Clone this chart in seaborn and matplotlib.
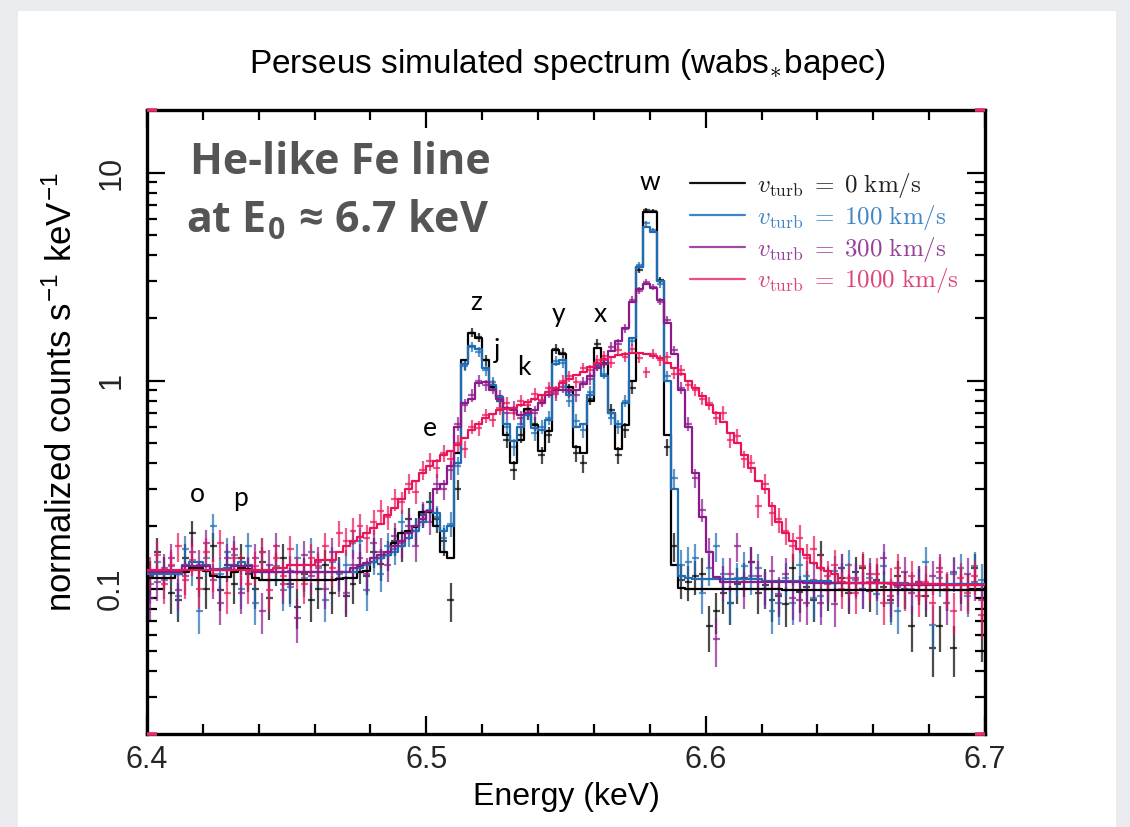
import numpy as np
import matplotlib
matplotlib.use("Agg")
import matplotlib.pyplot as plt
import seaborn as sns
import pandas as pd
from matplotlib.patches import Rectangle
from matplotlib.lines import Line2D
from matplotlib.ticker import FixedLocator, NullFormatter, LogLocator, MultipleLocator

# ---------------- data ----------------
E_LO, E_HI, N_BINS = 6.4, 6.7, 120          # energy grid (keV), 2.5 eV bins
VTURB = ["0", "100", "300", "1000"]          # km/s
COUNT_SCALE = 250.0                          # counts per unit rate in one bin (Poisson errors)

MODEL_V0 = ([0.112, 0.112, 0.112, 0.112, 0.118, 0.120, 0.125, 0.126, 0.122, 0.115,
             0.114, 0.114, 0.120, 0.126, 0.124, 0.112] + [0.110] * 10 +
            [0.110, 0.111, 0.112, 0.113] +
            [0.120, 0.122, 0.135, 0.140, 0.145, 0.165, 0.185, 0.190, 0.198, 0.234,
             0.234, 0.200, 0.150, 0.140] +
            [0.450, 1.25, 1.70, 1.60, 1.26, 0.93, 0.83, 0.55, 0.40, 0.52, 0.73, 0.61,
             0.46, 0.57, 1.40, 1.35] +
            [0.93, 0.48, 0.45, 0.80, 1.44, 1.20, 0.70, 0.47, 0.61, 1.00, 3.50, 6.50,
             6.50, 3.00, 0.55, 0.13, 0.101] +
            [0.100] * 14 + [0.099] * 15 + [0.098] * 14)

MODEL_V100 = ([0.117] * 5 +
              [0.130, 0.134, 0.134, 0.130, 0.124, 0.124, 0.125, 0.130, 0.134, 0.130, 0.122] +
              [0.120] * 14 +
              [0.125, 0.130, 0.135, 0.140, 0.145, 0.150, 0.160, 0.175, 0.190, 0.210,
               0.235, 0.230, 0.190, 0.200] +
              [0.400, 1.20, 1.47, 1.42, 1.15, 0.95, 0.83, 0.62, 0.51, 0.60, 0.68, 0.59,
               0.58, 0.65, 1.20, 1.25] +
              [0.85, 0.60, 0.62, 0.85, 1.20, 1.05, 0.70, 0.62, 0.78, 1.60, 3.50, 5.50,
               5.20, 3.00, 1.00, 0.30, 0.115, 0.112] +
              [0.111] * 10 + [0.109] * 10 + [0.107] * 11 + [0.105] * 11)

MODEL_V300 = ([0.120] * 5 + [0.128] * 4 + [0.123] * 3 + [0.128] * 3 + [0.120] * 14 +
              [0.125, 0.130, 0.133, 0.140, 0.145, 0.150, 0.160, 0.170, 0.185, 0.200,
               0.215, 0.235, 0.300, 0.320, 0.390] +
              [0.600, 0.780, 0.820, 0.970, 0.980, 0.900, 0.820, 0.740, 0.720, 0.680,
               0.700, 0.720, 0.780, 0.850, 0.900, 0.900] +
              [0.900, 0.900, 0.960, 1.050, 1.150, 1.200, 1.390, 1.550, 1.800, 2.400,
               2.750, 2.900, 2.800, 2.450, 1.900, 1.350, 0.900, 0.600, 0.360, 0.220,
               0.150, 0.114] +
              [0.108] * 12 + [0.106] * 13 + [0.104] * 13)

MODEL_V1000 = ([0.123] * 18 + [0.125] * 2 + [0.130] * 4 + [0.137] * 3 +
               [0.150, 0.160, 0.170, 0.177, 0.185, 0.195, 0.205, 0.225, 0.245, 0.270,
                0.300, 0.330, 0.360, 0.390, 0.410, 0.440, 0.460, 0.490, 0.530, 0.580,
                0.620, 0.660, 0.690] +
               [0.720, 0.730, 0.740, 0.760, 0.790, 0.820, 0.850, 0.880, 0.920, 0.970,
                1.020, 1.060, 1.100, 1.160, 1.220, 1.270, 1.300, 1.330, 1.350, 1.360,
                1.360, 1.350, 1.320, 1.280, 1.220] +
               [1.150, 1.080, 1.000, 0.920, 0.840, 0.760, 0.700, 0.630, 0.560, 0.500,
                0.440, 0.380, 0.330, 0.300, 0.250, 0.210, 0.185, 0.170, 0.155, 0.145,
                0.133, 0.125, 0.122, 0.117, 0.108] +
               [0.106] * 7 + [0.105] * 7 + [0.104] * 6)

DATA_V0 = [0.115, 0.150, 0.120, 0.095, 0.088, 0.140, 0.185, 0.112, 0.100, 0.160,
           0.098, 0.130, 0.105, 0.140, 0.118, 0.100, 0.135, 0.090, 0.125, 0.140,
           0.105, 0.082, 0.118, 0.088, 0.100, 0.130, 0.095, 0.120, 0.092, 0.105,
           0.128, 0.115, 0.150, 0.132, 0.145, 0.170, 0.160, 0.215, 0.190, 0.225,
           0.260, 0.215, 0.170, 0.088, 0.300, 1.200, 1.700, 1.620, 1.250, 0.950,
           0.800, 0.520, 0.370, 0.550, 0.700, 0.620, 0.440, 0.550, 1.420, 1.360,
           0.900, 0.450, 0.400, 0.820, 1.500, 1.220, 0.720, 0.440, 0.580, 0.920,
           3.400, 6.600, 6.550, 3.050, 0.480, 0.160, 0.110, 0.108, 0.115, 0.118,
           0.066, 0.078, 0.095, 0.085, 0.105, 0.112, 0.135, 0.095, 0.104, 0.088,
           0.092, 0.084, 0.125, 0.096, 0.102, 0.088, 0.145, 0.098, 0.107, 0.112,
           0.095, 0.120, 0.125, 0.097, 0.110, 0.102, 0.088, 0.115, 0.100, 0.066,
           0.104, 0.092, 0.052, 0.066, 0.098, 0.052, 0.105, 0.098, 0.125, 0.060]

DATA_V100 = [0.105, 0.135, 0.110, 0.128, 0.092, 0.155, 0.125, 0.078, 0.140, 0.200,
             0.118, 0.150, 0.145, 0.100, 0.160, 0.085, 0.150, 0.110, 0.128, 0.098,
             0.102, 0.140, 0.112, 0.150, 0.125, 0.088, 0.135, 0.118, 0.130, 0.165,
             0.170, 0.098, 0.140, 0.118, 0.160, 0.155, 0.210, 0.185, 0.190, 0.225,
             0.240, 0.220, 0.175, 0.205, 0.390, 1.180, 1.450, 1.380, 1.120, 0.980,
             0.800, 0.600, 0.480, 0.620, 0.700, 0.560, 0.600, 0.660, 1.240, 1.220,
             0.800, 0.640, 0.580, 0.880, 1.180, 1.080, 0.660, 0.600, 0.800, 1.550,
             3.600, 5.700, 5.300, 2.900, 1.050, 0.340, 0.130, 0.135, 0.140, 0.095,
             0.125, 0.160, 0.118, 0.085, 0.112, 0.128, 0.115, 0.125, 0.100, 0.078,
             0.085, 0.112, 0.085, 0.130, 0.115, 0.090, 0.092, 0.108, 0.122, 0.125,
             0.130, 0.110, 0.100, 0.112, 0.094, 0.128, 0.085, 0.078, 0.100, 0.100,
             0.108, 0.135, 0.067, 0.112, 0.098, 0.118, 0.125, 0.092, 0.128, 0.110]

DATA_V300 = [0.090, 0.108, 0.125, 0.140, 0.098, 0.115, 0.150, 0.130, 0.165, 0.110,
             0.085, 0.140, 0.155, 0.095, 0.120, 0.140, 0.078, 0.130, 0.160, 0.105,
             0.122, 0.072, 0.145, 0.115, 0.135, 0.100, 0.150, 0.112, 0.095, 0.130,
             0.140, 0.118, 0.165, 0.150, 0.130, 0.180, 0.165, 0.200, 0.160, 0.230,
             0.210, 0.320, 0.300, 0.370, 0.620, 0.760, 0.850, 1.000, 0.950, 0.920,
             0.840, 0.700, 0.740, 0.660, 0.720, 0.700, 0.800, 0.880, 0.860, 0.930,
             0.880, 0.850, 0.980, 1.020, 1.180, 1.250, 1.450, 1.500, 1.780, 2.450,
             2.700, 2.980, 2.820, 2.400, 1.950, 1.400, 0.920, 0.620, 0.340, 0.240,
             0.150, 0.057, 0.108, 0.118, 0.160, 0.100, 0.135, 0.115, 0.100, 0.122,
             0.094, 0.118, 0.090, 0.088, 0.085, 0.110, 0.085, 0.105, 0.084, 0.125,
             0.098, 0.112, 0.100, 0.118, 0.108, 0.140, 0.092, 0.102, 0.120, 0.095,
             0.108, 0.098, 0.115, 0.125, 0.085, 0.120, 0.098, 0.118, 0.108, 0.088]

DATA_V1000 = [0.120, 0.145, 0.105, 0.130, 0.160, 0.110, 0.138, 0.100, 0.150, 0.118,
              0.165, 0.095, 0.140, 0.125, 0.105, 0.128, 0.150, 0.098, 0.140, 0.115,
              0.155, 0.120, 0.105, 0.140, 0.128, 0.160, 0.125, 0.185, 0.170, 0.190,
              0.200, 0.175, 0.210, 0.235, 0.220, 0.270, 0.260, 0.320, 0.290, 0.370,
              0.410, 0.380, 0.450, 0.420, 0.500, 0.470, 0.600, 0.590, 0.680, 0.650,
              0.740, 0.780, 0.700, 0.800, 0.760, 0.860, 0.810, 0.920, 0.880, 1.000,
              1.050, 0.980, 1.150, 1.120, 1.250, 1.320, 1.220, 1.400, 1.300, 1.420,
              1.290, 1.100, 1.350, 1.250, 1.300, 1.080, 1.120, 0.950, 0.900, 0.820,
              0.780, 0.660, 0.700, 0.520, 0.540, 0.420, 0.400, 0.250, 0.320, 0.230,
              0.215, 0.190, 0.160, 0.175, 0.140, 0.155, 0.125, 0.115, 0.130, 0.100,
              0.112, 0.095, 0.128, 0.108, 0.118, 0.085, 0.105, 0.125, 0.098, 0.115,
              0.092, 0.108, 0.085, 0.120, 0.100, 0.078, 0.112, 0.095, 0.115, 0.075]

LINE_LABELS = ["w", "z", "j", "k", "y", "x", "e", "o", "p"]
LINE_LABEL_E = [6.580, 6.518, 6.5253, 6.535, 6.5472, 6.5622, 6.5013, 6.4179, 6.4333]
LINE_LABEL_Y = [8.95, 2.37, 1.39, 1.155, 2.08, 2.08, 0.588, 0.283, 0.271]

# ---------------- style ----------------
LINE_COLORS = ["#000000", "#1d6cb4", "#8c1a8c", "#ea1558"]
LEGEND_LINE_COLORS = ["#111111", "#3d85c8", "#a04aa2", "#ee4d84"]
LEGEND_TEXT_COLORS = ["#222222", "#3f86c6", "#97409a", "#e0437b"]

sns.set_theme(style="ticks")
plt.rcParams["font.family"] = ["Liberation Sans", "DejaVu Sans"]
plt.rcParams["mathtext.fontset"] = "cm"

W, H = 1130, 827
fig = plt.figure(figsize=(W / 100, H / 100), dpi=100)
fig.patch.set_facecolor("#e9ebee")
fig.add_artist(Rectangle((18 / W, 0), (1116 - 18) / W, (H - 11) / H,
                         transform=fig.transFigure, facecolor="white",
                         edgecolor="none", zorder=-5))

ax = fig.add_axes([147 / W, 1 - 734 / H, (985 - 147) / W, (734 - 110) / H])
ax.set_facecolor("white")

edges = np.linspace(E_LO, E_HI, N_BINS + 1)
half = (E_HI - E_LO) / N_BINS / 2
centers = edges[:-1] + half

models = [MODEL_V0, MODEL_V100, MODEL_V300, MODEL_V1000]
datas = [DATA_V0, DATA_V100, DATA_V300, DATA_V1000]
for model, data, col in zip(models, datas, LINE_COLORS):
    model = np.asarray(model)
    data = np.asarray(data)
    err = np.sqrt(data * COUNT_SCALE) / COUNT_SCALE
    ax.errorbar(centers, data, xerr=half, yerr=err, fmt="none", ecolor=col,
                elinewidth=1.6, alpha=0.7, capsize=0, zorder=2)
    df = pd.DataFrame({"E": edges, "rate": np.append(model, model[-1])})
    sns.lineplot(data=df, x="E", y="rate", drawstyle="steps-post", color=col,
                 lw=1.6, ax=ax, estimator=None, sort=False, zorder=3)

ax.set_yscale("log")
ax.set_xlim(E_LO, E_HI)
ax.set_ylim(0.02, 20)
ax.set_xlabel("")
ax.set_ylabel("")

ax.xaxis.set_major_locator(FixedLocator([6.4, 6.5, 6.6, 6.7]))
ax.set_xticklabels(["6.4", "6.5", "6.6", "6.7"])
ax.xaxis.set_minor_locator(MultipleLocator(0.02))
ax.yaxis.set_major_locator(FixedLocator([0.1, 1, 10]))
ax.set_yticklabels(["0.1", "1", "10"])
ax.yaxis.set_minor_locator(LogLocator(base=10, subs=np.arange(2, 10) * 1.0, numticks=30))
ax.yaxis.set_minor_formatter(NullFormatter())
ax.tick_params(which="both", direction="in", top=True, right=True, width=1.6,
               color="black")
ax.tick_params(which="major", length=13)
ax.tick_params(which="minor", length=7)
ax.tick_params(axis="x", labelsize=22, pad=8)
ax.tick_params(axis="y", labelsize=22, pad=15, labelrotation=90)
for lab in ax.get_yticklabels():
    lab.set_va("center")
for s in ax.spines.values():
    s.set_linewidth(2.4)
    s.set_color("black")

# red corner marks of the plotting package
for x0, x1, yy in [(0, 0.012, 1), (0.988, 1, 1), (0, 0.012, 0), (0.988, 1, 0)]:
    ax.plot([x0, x1], [yy, yy], transform=ax.transAxes, color="#e3306a", lw=2.6,
            clip_on=False, zorder=6, solid_capstyle="butt")

# titles
fig.text(567 / W, 1 - 64 / H, r"Perseus simulated spectrum (wabs$_{\ast}$bapec)",
         ha="center", va="center", fontsize=24, color="black")
fig.text(566 / W, 1 - 797 / H, "Energy (keV)", ha="center", va="center",
         fontsize=23, color="black")
fig.text(62 / W, 1 - 392 / H,
         r"normalized counts s$^{\mathregular{-1}}$ keV$^{\mathregular{-1}}$",
         ha="center", va="center", rotation=90, fontsize=25, color="black")

# big annotation
ANN_FONT = ["Open Sans", "DejaVu Sans"]
fig.text(340 / W, 1 - 162 / H, "He-like Fe line", ha="center", va="center",
         fontsize=31, fontweight="bold", color="#555555", family=ANN_FONT)
fig.text(338 / W, 1 - 221 / H, r"at E$_{\mathregular{0}}$ ≈ 6.7 keV", ha="center",
         va="center", fontsize=31, fontweight="bold", color="#555555",
         family=ANN_FONT)

# line identifications
for lab, ex, ey in zip(LINE_LABELS, LINE_LABEL_E, LINE_LABEL_Y):
    ax.text(ex, ey, lab, ha="center", va="center", fontsize=19, color="black",
            family=["Lato", "DejaVu Sans"], zorder=7)

# legend
handles = [Line2D([], [], color=c, lw=1.6) for c in LEGEND_LINE_COLORS]
labels = [r"$v_{\rm turb}\;=\;%s\ {\rm km/s}$" % v for v in VTURB]
leg = ax.legend(handles, labels, loc="upper left", bbox_to_anchor=(0.648, 0.902),
                frameon=False, fontsize=18, handlelength=2.2, handletextpad=0.48,
                labelspacing=0.11, borderpad=0, borderaxespad=0)
for t, c in zip(leg.get_texts(), LEGEND_TEXT_COLORS):
    t.set_color(c)

fig.savefig("out.png", dpi=100, facecolor=fig.get_facecolor())
